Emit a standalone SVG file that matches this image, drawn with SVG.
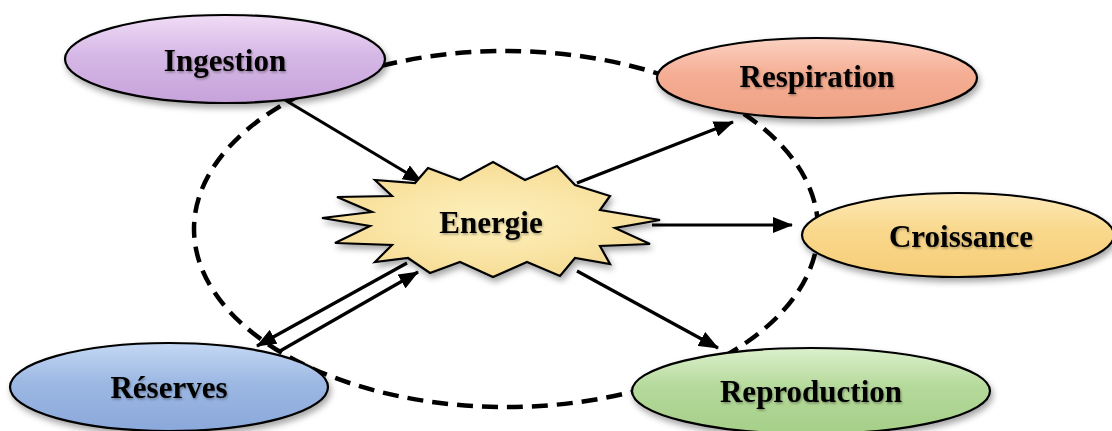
<svg xmlns="http://www.w3.org/2000/svg" width="1112" height="431" viewBox="0 0 1112 431">
<defs>
<filter id="sh" x="-10%" y="-20%" width="125%" height="150%">
<feDropShadow dx="2" dy="4" stdDeviation="3" flood-color="#000" flood-opacity="0.35"/>
</filter>
<filter id="tsh" x="-10%" y="-20%" width="120%" height="150%">
<feDropShadow dx="1" dy="1.5" stdDeviation="1" flood-color="#000" flood-opacity="0.35"/>
</filter>
<linearGradient id="gIng" x1="0" y1="0" x2="0" y2="1">
<stop offset="0" stop-color="#f0dcf6"/><stop offset="0.45" stop-color="#d6b8e6"/><stop offset="1" stop-color="#c6a2da"/>
</linearGradient>
<linearGradient id="gRes" x1="0" y1="0" x2="0" y2="1">
<stop offset="0" stop-color="#fbd2c2"/><stop offset="0.45" stop-color="#f5ae94"/><stop offset="1" stop-color="#eea184"/>
</linearGradient>
<linearGradient id="gCro" x1="0" y1="0" x2="0" y2="1">
<stop offset="0" stop-color="#fde9b8"/><stop offset="0.45" stop-color="#f9d88c"/><stop offset="1" stop-color="#f6cd78"/>
</linearGradient>
<linearGradient id="gRep" x1="0" y1="0" x2="0" y2="1">
<stop offset="0" stop-color="#dcf0cc"/><stop offset="0.45" stop-color="#b5d99b"/><stop offset="1" stop-color="#a5cf88"/>
</linearGradient>
<linearGradient id="gRsv" x1="0" y1="0" x2="0" y2="1">
<stop offset="0" stop-color="#c4d8f4"/><stop offset="0.45" stop-color="#9cb8e3"/><stop offset="1" stop-color="#8aa8da"/>
</linearGradient>
<radialGradient id="gStar" cx="0.5" cy="0.5" r="0.6">
<stop offset="0" stop-color="#fdf0bc"/><stop offset="0.6" stop-color="#f9e3a2"/><stop offset="1" stop-color="#f3d88e"/>
</radialGradient>
<marker id="ah" markerUnits="userSpaceOnUse" markerWidth="20" markerHeight="16" refX="19" refY="8" orient="auto">
<path d="M0,0 L20,8 L0,16 Z" fill="#000"/>
</marker>
<style>
.node{stroke:#000;stroke-width:2.2;filter:url(#sh)}
.lbl{font-family:"Liberation Serif","Times New Roman",serif;font-weight:bold;font-size:31px;fill:#000;text-anchor:middle;filter:url(#tsh)}
.arr{stroke:#000;stroke-width:3.2;fill:none;marker-end:url(#ah)}
</style>
</defs>
<rect width="1112" height="431" fill="#fff"/>
<g id="cycle">
<ellipse cx="506" cy="229" rx="312" ry="178" fill="none" stroke="#000" stroke-width="4.5" stroke-dasharray="16 9"/>
</g>
<g id="connectors">
<line class="arr" x1="285" y1="100" x2="422" y2="182"/>
<line class="arr" x1="577" y1="183" x2="733" y2="122"/>
<line class="arr" x1="652" y1="225" x2="792" y2="225"/>
<line class="arr" x1="577" y1="271" x2="718" y2="348"/>
<line class="arr" x1="407" y1="263" x2="257" y2="346"/>
<line class="arr" x1="280" y1="351" x2="418" y2="272"/>
</g>
<g id="ingestion">
<ellipse class="node" cx="225" cy="59" rx="160" ry="44" fill="url(#gIng)"/>
<text class="lbl" x="225" y="71">Ingestion</text>
</g>
<g id="respiration">
<ellipse class="node" cx="817" cy="78" rx="160" ry="40" fill="url(#gRes)"/>
<text class="lbl" x="817" y="87">Respiration</text>
</g>
<g id="croissance">
<ellipse class="node" cx="958" cy="235" rx="156" ry="42" fill="url(#gCro)"/>
<text class="lbl" x="961" y="247">Croissance</text>
</g>
<g id="reproduction">
<ellipse class="node" cx="811" cy="391" rx="179" ry="43" fill="url(#gRep)"/>
<text class="lbl" x="811" y="402">Reproduction</text>
</g>
<g id="reserves">
<ellipse class="node" cx="169" cy="387" rx="159" ry="44" fill="url(#gRsv)"/>
<text class="lbl" x="169" y="398">Réserves</text>
</g>
<g id="energie">
<polygon class="node" fill="url(#gStar)" points="428,168 460,180 493,162 525,180 557,166 575,185 610,196 600,210 660,220 615,228 650,244 600,246 610,264 575,258 560,276 527,262 493,277 460,262 430,273 408,258 375,262 392,245 335,243 370,226 322,218 372,212 337,197 392,196 375,180 415,183"/>
<text class="lbl" x="491" y="233">Energie</text>
</g>
</svg>
